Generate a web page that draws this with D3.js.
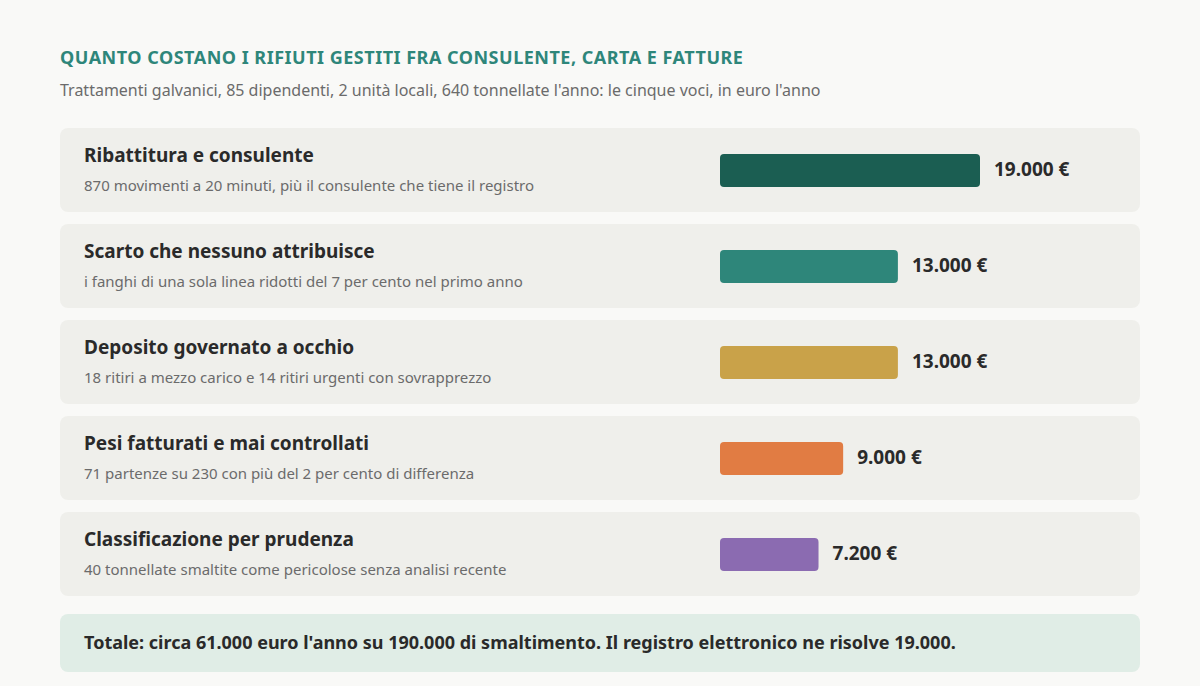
<!DOCTYPE html>
<html>
<head>
<meta charset="utf-8">
<script src="https://cdn.jsdelivr.net/npm/d3@7"></script>
<style>
  body { margin: 0; background: #f9f9f7; font-family: 'Noto Sans', sans-serif; }
</style>
</head>
<body>
<div id="chart"></div>
<script>
const titleText = 'QUANTO COSTANO I RIFIUTI GESTITI FRA CONSULENTE, CARTA E FATTURE'
const subtitleText = "Trattamenti galvanici, 85 dipendenti, 2 unità locali, 640 tonnellate l'anno: le cinque voci, in euro l'anno"
const labels = [
  'Ribattitura e consulente',
  'Scarto che nessuno attribuisce',
  'Deposito governato a occhio',
  'Pesi fatturati e mai controllati',
  'Classificazione per prudenza'
]
const notes = [
  '870 movimenti a 20 minuti, più il consulente che tiene il registro',
  'i fanghi di una sola linea ridotti del 7 per cento nel primo anno',
  '18 ritiri a mezzo carico e 14 ritiri urgenti con sovrapprezzo',
  '71 partenze su 230 con più del 2 per cento di differenza',
  '40 tonnellate smaltite come pericolose senza analisi recente'
]
const values = [19000, 13000, 13000, 9000, 7200]
const colors = ['#1b5e52', '#2e867a', '#c9a249', '#e17c43', '#8b6bb1']
const totalText = "Totale: circa 61.000 euro l'anno su 190.000 di smaltimento. Il registro elettronico ne risolve 19.000."

const width = 1200
const height = 686
const rowTop = 128
const rowH = 84
const rowGap = 12

const svg = d3.select('#chart')
  .append('svg')
  .attr('width', width)
  .attr('height', height)

svg.append('rect')
  .attr('width', width)
  .attr('height', height)
  .attr('fill', '#f9f9f7')

svg.append('text')
  .attr('x', 60)
  .attr('y', 64)
  .attr('fill', '#2e867a')
  .attr('font-size', 18)
  .attr('letter-spacing', 0.5)
  .attr('font-weight', 700)
  .text(titleText)

svg.append('text')
  .attr('x', 60)
  .attr('y', 96)
  .attr('fill', '#6b6b6b')
  .attr('font-size', 16)
  .text(subtitleText)

const x = d3.scaleLinear().domain([0, 19000]).range([0, 260])
const fmt = d3.format(',')
const euro = v => fmt(v).replace(/,/g, '.') + ' €'

const rows = svg.selectAll('g.row')
  .data(values)
  .enter()
  .append('g')
  .attr('class', 'row')
  .attr('transform', (d, i) => `translate(60, ${rowTop + i * (rowH + rowGap)})`)

rows.append('rect')
  .attr('width', 1080)
  .attr('height', rowH)
  .attr('rx', 8)
  .attr('fill', '#efefeb')

rows.append('text')
  .attr('x', 24)
  .attr('y', 34)
  .attr('fill', '#2a2a2a')
  .attr('font-size', 19)
  .attr('font-weight', 700)
  .text((d, i) => labels[i])

rows.append('text')
  .attr('x', 24)
  .attr('y', 63)
  .attr('fill', '#6b6b6b')
  .attr('font-size', 15)
  .text((d, i) => notes[i])

rows.append('rect')
  .attr('x', 660)
  .attr('y', 26)
  .attr('width', d => x(d))
  .attr('height', 33)
  .attr('rx', 4)
  .attr('fill', (d, i) => colors[i])

rows.append('text')
  .attr('x', d => 660 + x(d) + 14)
  .attr('y', 48)
  .attr('fill', '#2a2a2a')
  .attr('font-size', 19)
  .attr('font-weight', 700)
  .text(d => euro(d))

svg.append('rect')
  .attr('x', 60)
  .attr('y', 614)
  .attr('width', 1080)
  .attr('height', 58)
  .attr('rx', 8)
  .attr('fill', '#e0ede6')

svg.append('text')
  .attr('x', 84)
  .attr('y', 649)
  .attr('fill', '#2a2a2a')
  .attr('font-size', 18)
  .attr('font-weight', 700)
  .text(totalText)
</script>
</body>
</html>
